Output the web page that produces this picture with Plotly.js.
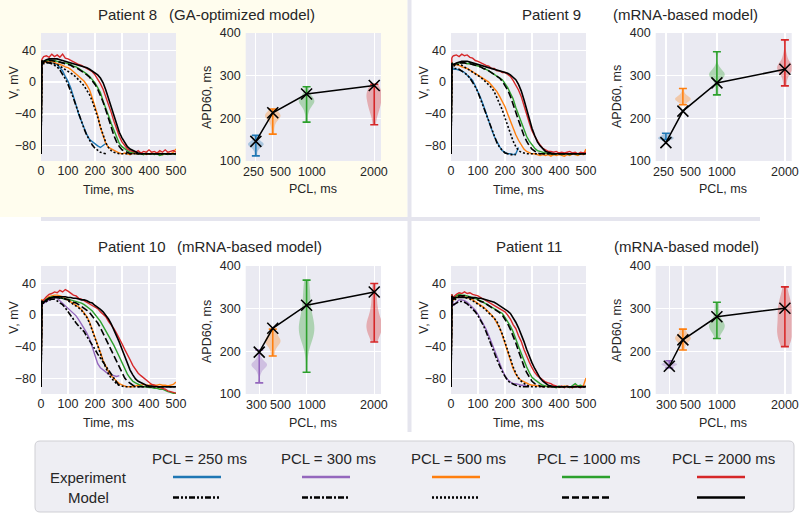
<!DOCTYPE html>
<html><head><meta charset="utf-8">
<script src="https://cdn.plot.ly/plotly-3.0.1.min.js"></script>
<style>html,body{margin:0;padding:0;background:#fff}</style>
</head><body><div id="chart" style="width:800px;height:515px"></div>
<script>
// ---------- DATA ----------
const T = [0,3,6,10,20,30,40,50,60,70,80,90,100,110,120,130,140,150,160,170,180,190,200,210,220,230,240,250,260,270,280,290,300,310,320,330,340,350,360,370,380,390,400,410,420,430,440,450,460,470,480,490,500];

const pclTop = [250, 500, 1000, 2000];
const pclBottom = [300, 500, 1000, 2000];
const legendPcls = [250, 300, 500, 1000, 2000];
const legendLabels = ["PCL = 250 ms", "PCL = 300 ms", "PCL = 500 ms", "PCL = 1000 ms", "PCL = 2000 ms"];
const rowLabels = ["Experiment", "Model"];
const patientLabels = ["Patient 8", "Patient 9", "Patient 10", "Patient 11"];
const modelLabels = ["(GA-optimized model)", "(mRNA-based model)", "(mRNA-based model)", "(mRNA-based model)"];
const apTimeTicks = [0,100,200,300,400,500];
const apVoltTicks = [-80,-40,0,40];
const apdTicks = [100,200,300,400];

// Patient 8
const p8Exp250 = [-90,26,24,25,27,25,26,23,22,18, 14,7,1,-7,-17,-29,-41,-50,-59,-66, -72,-75,-77,-80,-82,-80,-77];
const p8Mod250 = [-90,24,23,23,24,24,23,21,19,15, 10,4,-3,-11,-20,-30,-40,-50,-59,-67, -74,-79,-83,-86,-88,-89,-90];
const p8Exp500 = [-90,27,25,24,26,25,26,24,23,22, 21,19,18,16,13,11,8,4,1,-4, -10,-20,-30,-42,-57,-68,-77,-82,-84,-86, -88,-89,-90,-89,-90,-91,-89,-90,-90,-89, -90,-91,-90,-89,-90,-90,-89,-91,-90,-89, -90,-88,-84];
const p8Mod500 = [-90,25,24,24,25,25,24,23,22,20, 18,16,14,12,9,6,3,-1,-5,-10, -16,-24,-33,-44,-56,-67,-76,-82,-86,-88, -89,-90,-90,-90,-90,-90,-90,-90,-90,-90, -90,-90,-90,-90,-90,-90,-90,-90,-90,-90, -90,-90,-90];
const p8Exp1000 = [-90,27,26,26,27,28,27,27,26,25, 24,24,23,22,20,19,17,15,13,10, 7,3,-1,-7,-13,-24,-32,-42,-52,-61, -70,-77,-81,-84,-86,-88,-88,-89,-90,-90, -91,-89,-90,-90,-91,-90,-92,-91,-90,-91, -90,-90,-91];
const p8Mod1000 = [-90,26,25,25,27,27,27,26,26,25, 24,23,22,21,19,18,16,14,12,9, 6,2,-3,-9,-16,-25,-35,-46,-57,-67, -75,-81,-85,-87,-89,-90,-90,-90,-90,-90, -90,-90,-90,-90,-90,-90,-90,-90,-90,-90, -90,-90,-90];
const p8Exp2000 = [-90,28,30,32,33,31,35,32,34,31, 35,30,29,27,25,24,22,21,19,18, 16,13,9,4,-2,-9,-18,-27,-38,-49, -59,-68,-75,-80,-84,-86,-87,-88,-86,-89, -87,-88,-85,-88,-87,-89,-86,-88,-85,-88, -87,-86,-88];
const p8Mod2000 = [-90,27,26,26,28,29,29,29,29,28, 27,26,25,24,23,22,21,20,19,18, 16,14,12,9,5,-1,-10,-21,-32,-43, -54,-63,-70,-76,-81,-84,-86,-88,-89,-90, -90,-90,-90,-90,-90,-90,-90,-90,-90,-90, -90,-90,-90];

// Patient 9
const p9Exp250 = [-90,22,18,16,16,15,14,12,9,6, 2,-5,-12,-20,-29,-40,-50,-59,-68,-75, -81,-86,-88,-90,-90,-91,-90,-82];
const p9Mod250 = [-90,20,17,17,17,16,14,12,9,5, 0,-6,-13,-22,-31,-41,-51,-60,-69,-76, -82,-86,-89,-90,-91,-91,-91];
const p9Exp500 = [-90,24,22,21,22,21,19,18,17,15, 13,11,9,7,5,3,0,-4,-8,-12, -18,-24,-31,-40,-49,-57,-66,-73,-79,-84, -87,-89,-90,-90,-91,-92,-91,-92,-91,-93, -91,-92,-91,-92,-93,-91,-92,-90,-91,-92, -90,-91,-84];
const p9Mod500 = [-90,22,20,20,22,22,21,19,17,15, 13,11,9,6,3,0,-3,-7,-12,-19, -26,-35,-45,-55,-65,-74,-81,-86,-88,-89, -90,-90,-90,-90,-90,-90,-90,-90,-90,-90, -90,-90,-90,-90,-90,-90,-90,-90,-90,-90, -90,-90,-90];
const p9Exp1000 = [-90,25,23,22,23,24,24,24,23,23, 22,21,20,19,17,16,14,12,10,8, 6,3,-2,-7,-14,-21,-32,-41,-52,-61, -68,-74,-79,-83,-86,-87,-88,-89,-90,-90, -91,-90,-89,-91,-90,-90,-91,-89,-90,-91, -90,-89,-90];
const p9Mod1000 = [-90,24,22,22,23,24,24,24,23,23, 22,21,20,19,17,16,14,12,10,8, 5,1,-4,-10,-18,-27,-38,-48,-58,-67, -74,-80,-84,-87,-89,-90,-90,-90,-90,-90, -90,-90,-90,-90,-90,-90,-90,-90,-90,-90, -90,-90,-90];
const p9Exp2000 = [-90,30,32,33,34,32,35,33,34,31, 30,27,26,24,23,21,20,17,17,14, 14,12,12,9,7,2,-4,-10,-18,-28, -40,-51,-61,-68,-74,-79,-83,-85,-87,-87, -88,-87,-89,-88,-89,-88,-87,-89,-88,-90, -88,-89,-88];
const p9Mod2000 = [-90,23,22,22,24,25,26,26,26,25, 24,23,22,21,20,19,18,17,16,15, 14,13,12,11,9,6,3,-3,-11,-22, -35,-47,-58,-67,-75,-80,-84,-87,-88,-89, -90,-90,-90,-90,-90,-90,-90,-90,-90,-90, -90,-90,-90];

// Patient 10
const p10Exp300 = [-90,17,14,15,17,19,21,22,21,18, 15,12,8,5,3,-1,-6,-11,-17,-23, -30,-40,-52,-61,-66,-69,-72,-74,-75,-76, -77,-76];
const p10Mod300 = [-90,18,15,15,17,19,20,20,18,16, 13,9,4,-1,-6,-10,-14,-17,-21,-27, -32,-38,-43,-49,-54,-60,-65,-70,-75,-80, -85,-89];
const p10Exp500 = [-90,20,17,18,21,23,24,25,25,24, 23,21,19,17,15,13,10,7,3,-2, -9,-18,-27,-37,-47,-57,-65,-71,-76,-80, -83,-86,-88,-89,-90,-90,-90,-89,-88,-88, -87,-88,-88,-87,-88,-88,-87,-88,-88,-89, -88,-87,-84];
const p10Mod500 = [-90,18,16,16,19,21,22,23,23,22, 21,20,18,16,14,12,9,6,2,-3, -10,-19,-28,-38,-48,-58,-67,-74,-79,-83, -86,-88,-89,-90,-90,-90,-90,-90,-90,-90, -90,-90,-90,-90,-90,-90,-90,-90,-90,-90, -90,-90,-90];
const p10Exp1000 = [-90,18,15,17,20,22,23,23,22,22, 21,20,20,19,18,17,16,15,13,11, 8,5,1,-3,-8,-14,-20,-26,-31,-38, -45,-52,-60,-68,-74,-79,-83,-85,-87,-89, -90,-90,-91,-91,-92,-92,-93,-93,-95,-96, -97,-98,-98];
const p10Mod1000 = [-90,17,15,16,19,21,22,22,22,21, 21,20,19,18,16,15,13,11,9,6, 3,-1,-5,-10,-16,-23,-30,-37,-44,-52, -60,-67,-74,-79,-83,-86,-88,-89,-90,-90, -90,-90,-90,-90,-90,-90,-90,-90,-90,-90, -90,-90,-90];
const p10Exp2000 = [-90,18,16,19,23,26,27,29,28,31, 29,32,30,27,25,24,21,20,18,16, 14,13,10,8,4,1,-2,-8,-12,-17, -23,-29,-36,-43,-49,-56,-63,-68,-73,-76, -79,-82,-84,-87,-88,-90,-91,-92,-93,-95, -96,-97,-98];
const p10Mod2000 = [-90,17,15,16,19,21,22,23,23,23, 23,23,22,22,21,21,20,19,19,18, 16,15,12,10,7,4,0,-5,-11,-18, -26,-34,-43,-52,-61,-69,-75,-80,-83,-85, -87,-88,-89,-89,-90,-90,-90,-90,-90,-90, -90,-90,-90];

// Patient 11
const p11Exp300 = [-90,24,17,12,16,19,19,18,16,13, 10,6,1,-5,-11,-18,-26,-35,-44,-53, -61,-69,-76,-81,-84,-86,-86,-87,-88,-88, -89,-89];
const p11Mod300 = [-90,22,16,13,15,17,17,16,14,11, 8,4,-1,-7,-13,-21,-29,-38,-47,-56, -64,-71,-77,-82,-85,-87,-88,-89,-90,-90, -90,-90];
const p11Exp500 = [-90,25,21,19,22,24,24,23,22,21, 19,17,15,13,10,7,4,0,-4,-10, -16,-25,-36,-47,-58,-67,-74,-79,-82,-84, -86,-87,-88,-88,-89,-89,-90,-89,-90,-90, -89,-90,-91,-90,-89,-90,-90,-91,-90,-89, -90,-89,-79];
const p11Mod500 = [-90,23,19,18,21,23,23,22,21,20, 18,16,14,12,9,6,3,0,-4,-8, -15,-24,-34,-45,-56,-65,-73,-79,-83,-86, -88,-89,-90,-90,-90,-90,-90,-90,-90,-90, -90,-90,-90,-90,-90,-90,-90,-90,-90,-90, -90,-90,-90];
const p11Exp1000 = [-90,26,22,21,24,26,25,25,24,23, 22,21,19,18,16,14,13,11,9,7, 5,2,-3,-8,-14,-21,-29,-39,-48,-57, -65,-72,-78,-81,-84,-86,-88,-89,-90,-89, -90,-91,-89,-90,-90,-89,-91,-88,-86,-89, -88,-90,-89];
const p11Mod1000 = [-90,24,21,20,23,24,24,24,23,22, 21,20,19,17,16,14,12,10,8,6, 3,0,-5,-11,-18,-26,-35,-45,-55,-64, -72,-78,-83,-86,-88,-89,-90,-90,-90,-90, -90,-90,-90,-90,-90,-90,-90,-90,-90,-90, -90,-90,-90];
const p11Exp2000 = [-90,26,23,23,26,28,27,29,27,28, 26,25,24,22,20,19,17,15,13,11, 9,7,4,0,-5,-12,-17,-26,-33,-43, -52,-59,-66,-72,-76,-79,-81,-84,-85,-86, -88,-89,-90,-89,-91,-89,-90,-91,-89,-90, -91,-89,-90];
const p11Mod2000 = [-90,24,22,22,22,22,22,22,22,22, 22,22,21,21,20,19,18,17,16,14, 12,10,8,5,2,-3,-9,-16,-24,-33, -43,-52,-60,-67,-74,-79,-83,-86,-88,-89, -90,-90,-90,-90,-90,-90,-90,-90,-90,-90, -90,-90,-90];

// APD60 experimental samples (violins) and model values
const p8Apd250 = [112,125,132,136,138,139,140,142,145,150,160];
const p8Apd500 = [163,180,192,198,202,205,206,208,210,215,222];
const p8Apd1000 = [191,215,228,234,238,240,242,245,250,258,274];
const p8Apd2000 = [185,210,222,226,230,240,250,254,256,258,262,270,280];
const p8ModelAPD = [146,213,257,277];

const p9Apd250 = [150,151,153,154,155,157,160,165];
const p9Apd500 = [232,238,241,243,245,246,247,249,252,258,270];
const p9Apd1000 = [255,275,290,296,300,302,304,306,310,320,356];
const p9Apd2000 = [276,295,305,312,316,318,320,322,326,335,350,384];
const p9ModelAPD = [143,217,283,315];

const p10Apd300 = [126,150,160,164,167,168,170,172,176,185,203];
const p10Apd500 = [189,205,215,220,222,224,226,230,236,244,252];
const p10Apd1000 = [151,228,234,240,245,248,250,252,256,262,270,280,295,310,325,340,355,367];
const p10Apd2000 = [222,240,250,254,256,258,260,262,266,275,290,305,320,340,359];
const p10ModelAPD = [198,254,308,339];

const p11Apd300 = [161,165,167,168,169,170,171,172,174,178];
const p11Apd500 = [203,215,222,226,229,231,232,234,238,244,252];
const p11Apd1000 = [230,245,252,256,258,260,262,266,272,285,300,315];
const p11Apd2000 = [211,232,238,242,244,246,255,270,290,296,300,303,310,325,351];
const p11ModelAPD = [165,227,281,301];

// ---------- STYLE ----------
const FONT = "Liberation Sans, Arial, sans-serif";
const TXT = "#262626";
const colors = {250:"#1f77b4", 300:"#9467bd", 500:"#ff7f0e", 1000:"#2ca02c", 2000:"#d62728"};
const rgb = {250:"31,119,180", 300:"148,103,189", 500:"255,127,14", 1000:"44,160,44", 2000:"214,39,40"};
const dashes = {250:"6px,2px,2px,2px,2px,2px", 300:"6px,2px,2px,2px", 500:"2px,2px", 1000:"7px,3px", 2000:"solid"};
// pixel nudges of the PCL tick labels, as placed in the reference
const tickNudge = {250:-2.5, 300:-2.7, 500:7.5, 1000:5, 2000:0};

const W = 800, H = 515;
const px = v => v / W;
const py = v => 1 - v / H;

const xDomAPl = [41/W, 176/W], xDomAPDl = [245.7/W, 381/W];
const xDomAPr = [451/W, 586/W], xDomAPDr = [655.7/W, 791.7/W];
const yDomTop = [1-161/H, 1-33/H], yDomBot = [1-394/H, 1-266/H];

const panels = [
  {ap:1, xAP:xDomAPl, xAPD:xDomAPDl, yD:yDomTop, tickY:172, pcls:pclTop,
   exp:[p8Exp250,p8Exp500,p8Exp1000,p8Exp2000], mod:[p8Mod250,p8Mod500,p8Mod1000,p8Mod2000],
   apd:[p8Apd250,p8Apd500,p8Apd1000,p8Apd2000], modelApd:p8ModelAPD},
  {ap:3, xAP:xDomAPr, xAPD:xDomAPDr, yD:yDomTop, tickY:172, pcls:pclTop,
   exp:[p9Exp250,p9Exp500,p9Exp1000,p9Exp2000], mod:[p9Mod250,p9Mod500,p9Mod1000,p9Mod2000],
   apd:[p9Apd250,p9Apd500,p9Apd1000,p9Apd2000], modelApd:p9ModelAPD},
  {ap:5, xAP:xDomAPl, xAPD:xDomAPDl, yD:yDomBot, tickY:405, pcls:pclBottom,
   exp:[p10Exp300,p10Exp500,p10Exp1000,p10Exp2000], mod:[p10Mod300,p10Mod500,p10Mod1000,p10Mod2000],
   apd:[p10Apd300,p10Apd500,p10Apd1000,p10Apd2000], modelApd:p10ModelAPD},
  {ap:7, xAP:xDomAPr, xAPD:xDomAPDr, yD:yDomBot, tickY:405, pcls:pclBottom,
   exp:[p11Exp300,p11Exp500,p11Exp1000,p11Exp2000], mod:[p11Mod300,p11Mod500,p11Mod1000,p11Mod2000],
   apd:[p11Apd300,p11Apd500,p11Apd1000,p11Apd2000], modelApd:p11ModelAPD}
];
panels.forEach(p => { p.apdAx = p.ap + 1; });

const ref = n => n === 1 ? "" : String(n);
const traces = [];

panels.forEach(p => {
  p.exp.forEach((v, i) => {
    traces.push({type:"scatter", mode:"lines", x:T.slice(0, v.length), y:v,
      xaxis:"x"+ref(p.ap), yaxis:"y"+ref(p.ap),
      line:{color:colors[p.pcls[i]], width:1.4}, hoverinfo:"skip", showlegend:false});
  });
});
panels.forEach(p => {
  p.mod.forEach((v, i) => {
    traces.push({type:"scatter", mode:"lines", x:T.slice(0, v.length), y:v,
      xaxis:"x"+ref(p.ap), yaxis:"y"+ref(p.ap),
      line:{color:"#000", width:1.6, dash:dashes[p.pcls[i]]}, hoverinfo:"skip", showlegend:false});
  });
});
panels.forEach(p => {
  const xa = "x"+ref(p.apdAx), ya = "y"+ref(p.apdAx);
  p.apd.forEach((s, i) => {
    const pcl = p.pcls[i];
    traces.push({type:"violin", x0:pcl, y:s, xaxis:xa, yaxis:ya, width:230,
      spanmode:"hard", points:false, box:{visible:false}, meanline:{visible:false},
      fillcolor:"rgba("+rgb[pcl]+",0.32)", line:{width:0, color:"rgba("+rgb[pcl]+",0)"},
      hoverinfo:"skip", showlegend:false, scalemode:"width"});
  });
  p.apd.forEach((s, i) => {
    const pcl = p.pcls[i];
    const mn = Math.min(...s), mx = Math.max(...s), mid = (mn+mx)/2;
    traces.push({type:"scatter", mode:"markers", x:[pcl], y:[mid], xaxis:xa, yaxis:ya,
      marker:{size:1, color:"rgba(0,0,0,0)"},
      error_y:{type:"data", symmetric:false, array:[mx-mid], arrayminus:[mid-mn],
        color:colors[pcl], thickness:1.6, width:4},
      hoverinfo:"skip", showlegend:false});
  });
  traces.push({type:"scatter", mode:"lines+markers", x:p.pcls, y:p.modelApd, xaxis:xa, yaxis:ya,
    line:{color:"#000", width:1.5},
    marker:{symbol:"x-thin", size:11, color:"#000", line:{color:"#000", width:1.6}},
    hoverinfo:"skip", showlegend:false});
});

// ---------- LAYOUT ----------
const tickFont = {family:FONT, size:12.5, color:TXT};
const axBase = {showgrid:true, gridcolor:"#ffffff", gridwidth:1.2, zeroline:false, showline:false,
  ticks:"", tickangle:0, tickfont:tickFont, fixedrange:true};

const layout = {width:W, height:H, margin:{l:0,r:0,t:0,b:0},
  paper_bgcolor:"#ffffff", plot_bgcolor:"rgba(0,0,0,0)", showlegend:false,
  font:{family:FONT, color:TXT}, shapes:[], annotations:[]};

layout.shapes.push({type:"rect", xref:"paper", yref:"paper", x0:0, x1:px(407.5), y0:py(217), y1:1,
  fillcolor:"rgb(255,253,238)", line:{width:0}, layer:"below"});
layout.shapes.push({type:"line", xref:"paper", yref:"paper", x0:px(409.5), x1:px(409.5), y0:py(432), y1:1,
  line:{color:"#e5e5ee", width:4}, layer:"below"});
layout.shapes.push({type:"line", xref:"paper", yref:"paper", x0:px(41), x1:px(760), y0:py(219), y1:py(219),
  line:{color:"#e5e5ee", width:4}, layer:"below"});

panels.forEach(p => {
  const a = p.ap, b = p.apdAx;
  layout["xaxis"+ref(a)] = Object.assign({}, axBase, {domain:p.xAP, range:[0,500], tickvals:apTimeTicks, anchor:"y"+ref(a)});
  layout["yaxis"+ref(a)] = Object.assign({}, axBase, {domain:p.yD, range:[-99,61.5], tickvals:apVoltTicks, anchor:"x"+ref(a), ticklabelstandoff:4});
  layout["xaxis"+ref(b)] = Object.assign({}, axBase, {domain:p.xAPD, range:[100,2100], tickvals:p.pcls,
    showticklabels:false, anchor:"y"+ref(b)});
  layout["yaxis"+ref(b)] = Object.assign({}, axBase, {domain:p.yD, range:[100,400], tickvals:apdTicks, anchor:"x"+ref(b), ticklabelstandoff:4});
  [a, b].forEach(n => layout.shapes.push({type:"rect", xref:"x"+ref(n)+" domain", yref:"y"+ref(n)+" domain",
    x0:0, x1:1, y0:0, y1:1, fillcolor:"#EAEAF2", line:{width:0}, layer:"below"}));
  // PCL tick labels, anchored to their data positions
  p.pcls.forEach(v => layout.annotations.push({xref:"x"+ref(b), yref:"paper", x:v, y:py(p.tickY),
    xshift:tickNudge[v], xanchor:"center", yanchor:"middle", text:String(v), showarrow:false, font:tickFont}));
});

const titlePos = [[96,167,14],[520,611,14],[96,175,246],[494,612,246]];
titlePos.forEach((t, i) => {
  layout.annotations.push({xref:"paper", yref:"paper", x:px(t[0]), y:py(t[2]), xanchor:"left", yanchor:"middle",
    text:patientLabels[i], showarrow:false, font:{family:FONT, size:15, color:TXT}});
  layout.annotations.push({xref:"paper", yref:"paper", x:px(t[1]), y:py(t[2]), xanchor:"left", yanchor:"middle",
    text:modelLabels[i], showarrow:false, font:{family:FONT, size:15, color:TXT}});
});

const axTitle = (text, x, y, rot) => layout.annotations.push({xref:"paper", yref:"paper", x:px(x), y:py(y),
  xanchor:"center", yanchor:"middle", text:text, showarrow:false, textangle:rot,
  font:{family:FONT, size:12.5, color:TXT}});
[[0,0],[410,0]].forEach(o => {
  axTitle("V, mV", 14+o[0], 82, -90); axTitle("Time, ms", 108.5+o[0], 190, 0);
  axTitle("APD60, ms", 207+o[0], 97, -90); axTitle("PCL, ms", 313+o[0], 189, 0);
  axTitle("V, mV", 14+o[0], 317, -90); axTitle("Time, ms", 108.5+o[0], 423, 0);
  axTitle("APD60, ms", 207+o[0], 331, -90); axTitle("PCL, ms", 313+o[0], 423, 0);
});

(function(){
  const x0=35, x1=794, y0=441, y1=512, r=5;
  const P = (x,y) => px(x)+","+py(y);
  const path = "M"+P(x0+r,y0)+" L"+P(x1-r,y0)+" Q"+P(x1,y0)+" "+P(x1,y0+r)+" L"+P(x1,y1-r)+
    " Q"+P(x1,y1)+" "+P(x1-r,y1)+" L"+P(x0+r,y1)+" Q"+P(x0,y1)+" "+P(x0,y1-r)+" L"+P(x0,y0+r)+
    " Q"+P(x0,y0)+" "+P(x0+r,y0)+" Z";
  layout.shapes.push({type:"path", xref:"paper", yref:"paper", path:path,
    fillcolor:"#EEEEF3", line:{color:"#cfcfd4", width:1}});
  const cols = [197, 326, 456, 586, 721];
  legendPcls.forEach((pcl, i) => {
    layout.annotations.push({xref:"paper", yref:"paper", x:px(cols[i]+2), y:py(458), xanchor:"center", yanchor:"middle",
      text:legendLabels[i], showarrow:false, font:{family:FONT, size:15, color:TXT}});
    layout.shapes.push({type:"line", xref:"paper", yref:"paper", x0:px(cols[i]-24), x1:px(cols[i]+24),
      y0:py(477), y1:py(477), line:{color:colors[pcl], width:2.4}});
    layout.shapes.push({type:"line", xref:"paper", yref:"paper", x0:px(cols[i]-24), x1:px(cols[i]+24),
      y0:py(497.5), y1:py(497.5), line:{color:"#000", width:2.4, dash:dashes[pcl]}});
  });
  layout.annotations.push({xref:"paper", yref:"paper", x:px(88.5), y:py(477.5), xanchor:"center", yanchor:"middle",
    text:rowLabels[0], showarrow:false, font:{family:FONT, size:15, color:TXT}});
  layout.annotations.push({xref:"paper", yref:"paper", x:px(88), y:py(497.5), xanchor:"center", yanchor:"middle",
    text:rowLabels[1], showarrow:false, font:{family:FONT, size:15, color:TXT}});
})();

Plotly.newPlot("chart", traces, layout, {staticPlot:true, displayModeBar:false});
</script></body></html>
